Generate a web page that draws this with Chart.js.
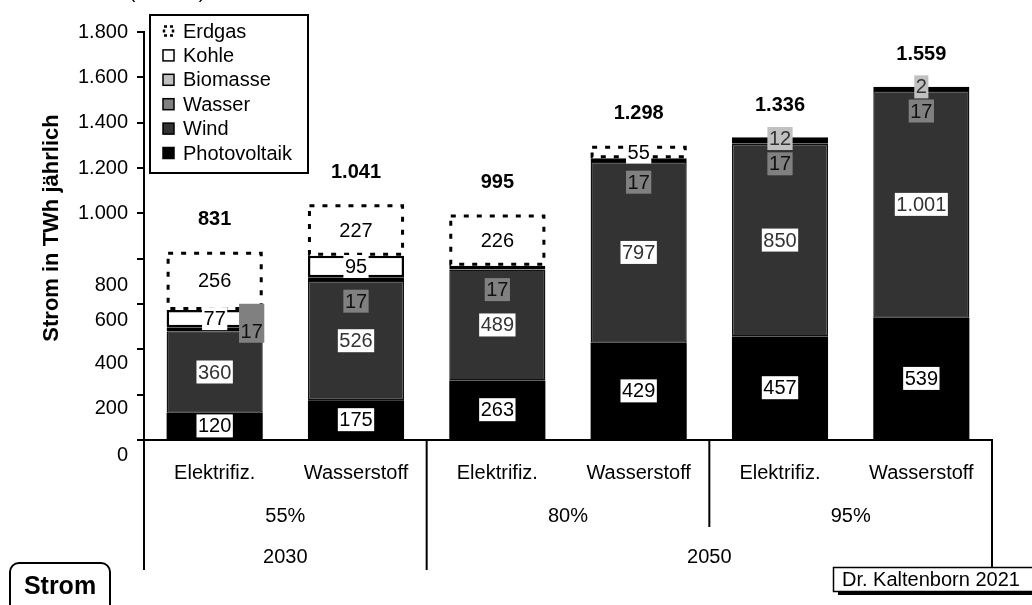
<!DOCTYPE html>
<html><head><meta charset="utf-8">
<script src="https://cdn.jsdelivr.net/npm/chart.js@4.4.1/dist/chart.umd.min.js"></script>
<style>html,body{margin:0;padding:0;background:#fff}#wrap{width:1032px;height:605px;position:relative}</style>
</head><body><div id="wrap"><canvas id="c"></canvas></div>
<script>
// ---------- data ----------
const categories = ['Elektrifiz.','Wasserstoff','Elektrifiz.','Wasserstoff','Elektrifiz.','Wasserstoff'];
const scenarioLabels = ['55%','80%','95%'];
const scenarioSpans = [2,2,2];
const yearLabels = ['2030','2050'];
const yearSpans = [2,4];
const seriesNames = ['Photovoltaik','Wind','Wasser','Biomasse','Kohle','Erdgas'];
const photovoltaik = [120,175,263,429,457,539];
const wind = [360,526,489,797,850,1001];
const wasser = [17,17,17,17,17,17];
const biomasse = [0,0,0,0,12,2];
const kohle = [77,95,0,0,0,0];
const erdgas = [256,227,226,55,0,0];
const totals = [831,1041,995,1298,1336,1559];
const yTickValues = [0,200,400,600,800,1000,1200,1400,1600,1800];
const yTickLabels = ['0','200','400','600','800','1.000','1.200','1.400','1.600','1.800'];
const axisTitle = 'Strom in TWh jährlich';
const topNote = '(in TWh)';
const boxLabel = 'Strom';
const sourceLabel = 'Dr. Kaltenborn 2021';

// ---------- style ----------
const FONT = '"Liberation Sans", Arial, Helvetica, sans-serif';
const fills = ['#000000','#333333','#808080','#c0c0c0','#ffffff','#ffffff'];
const borders = ['#000000','#111111','#000000','#000000','#000000','rgba(0,0,0,0)'];
const borderWidths = [0,1.5,2,2,2.5,0];
const labelBg = ['#ffffff','#ffffff','#808080','#c0c0c0','#ffffff','#ffffff'];
const labelColor = ['#000000','#333333','#111111','#333333','#000000','#000000'];
const yLabelShift = [15,14,14,16,27,0,0,0,0,0];
const wasserDx = [37,0,0,0,0,0];
const wasserDy = [2,22,22,22,22,22];
const wasserPadTop = [16,0,0,0,0,0];

const fmt = v => String(v).replace(/\B(?=(\d{3})+(?!\d))/g,'.');
const seriesData = [photovoltaik, wind, wasser, biomasse, kohle, erdgas];

const decor = {
  id:'decor',
  beforeDraw(chart){
    const c = chart.ctx; c.save(); c.fillStyle='#fff'; c.fillRect(0,0,chart.width,chart.height); c.restore();
  },
  afterDatasetsDraw(chart){
    const ctx = chart.ctx;
    const ys = chart.scales.y;
    ctx.save();
    // dashed Erdgas outline
    const gm = chart.getDatasetMeta(5);
    gm.data.forEach((bar,i)=>{
      if(!erdgas[i]) return;
      const p = bar.getProps(['x','y','base','width'], true);
      ctx.setLineDash([5,8]);
      ctx.lineWidth = 3;
      ctx.strokeStyle = '#000';
      ctx.strokeRect(p.x - p.width/2 + 1.5, p.y + 1.5, p.width - 3, p.base - p.y - 3);
    });
    ctx.setLineDash([]);
    // segment labels
    ctx.font = '20px ' + FONT;
    ctx.textAlign = 'center';
    ctx.textBaseline = 'middle';
    seriesData.forEach((arr, d)=>{
      const meta = chart.getDatasetMeta(d);
      meta.data.forEach((bar,i)=>{
        const v = arr[i];
        if(!v) return;
        const p = bar.getProps(['x','y','base'], true);
        let cx = p.x, cy = (p.y + p.base)/2, padTop = 0;
        if(d === 2){ cx += wasserDx[i]; cy += wasserDy[i]; padTop = wasserPadTop[i]; }
        const t = fmt(v);
        const w = ctx.measureText(t).width + 3;
        const h = 23;
        ctx.fillStyle = labelBg[d];
        ctx.fillRect(cx - w/2, cy - h/2 - padTop, w, h + padTop);
        ctx.fillStyle = labelColor[d];
        ctx.fillText(t, cx, cy + 1);
      });
    });
    // totals
    ctx.font = 'bold 20px ' + FONT;
    ctx.fillStyle = '#000';
    const pm = chart.getDatasetMeta(0);
    totals.forEach((t,i)=>{
      const x = pm.data[i].x;
      ctx.fillText(fmt(t), x, ys.getPixelForValue(t) - 32);
    });
    ctx.restore();
  },
  afterDraw(chart){
    const ctx = chart.ctx;
    const xs = chart.scales.x, ys = chart.scales.y;
    const ca = chart.chartArea;
    ctx.save();
    // top cut note
    ctx.font = '20px ' + FONT; ctx.fillStyle='#000'; ctx.textAlign='center'; ctx.textBaseline='alphabetic';
    ctx.fillText(topNote, 167, -2);
    // y tick labels
    ctx.textAlign='right'; ctx.textBaseline='middle';
    yTickValues.forEach((v,k)=>{
      ctx.fillText(yTickLabels[k], 128, ys.getPixelForValue(v) + yLabelShift[k]);
    });
    // y axis title
    ctx.save();
    ctx.translate(52, 228); ctx.rotate(-Math.PI/2);
    ctx.font = 'bold 22px ' + FONT; ctx.textAlign='center'; ctx.textBaseline='middle';
    ctx.fillText(axisTitle, 0, 0);
    ctx.restore();
    // category group lines
    const bottomFull = 570, bottomMid = 527;
    ctx.strokeStyle='#000'; ctx.lineWidth=2;
    const bnd = k => xs.getPixelForValue(k - 0.5);
    ctx.beginPath(); ctx.moveTo(ca.left, ca.bottom); ctx.lineTo(ca.left, bottomFull); ctx.stroke();
    let idx = 0;
    const yearEdges = [];
    yearSpans.forEach(s=>{ idx += s; yearEdges.push(idx); });
    idx = 0;
    scenarioSpans.forEach(s=>{
      idx += s;
      const x = bnd(idx);
      const full = yearEdges.includes(idx);
      ctx.beginPath(); ctx.moveTo(x, ca.bottom); ctx.lineTo(x, full ? bottomFull : bottomMid); ctx.stroke();
    });
    // group labels
    ctx.font = '20px ' + FONT; ctx.textAlign='center'; ctx.textBaseline='middle'; ctx.fillStyle='#000';
    idx = 0;
    scenarioSpans.forEach((s,k)=>{
      const cx = (bnd(idx) + bnd(idx+s))/2;
      ctx.fillText(scenarioLabels[k], cx, 516);
      idx += s;
    });
    idx = 0;
    yearSpans.forEach((s,k)=>{
      const cx = (bnd(idx) + bnd(idx+s))/2;
      ctx.fillText(yearLabels[k], cx, 557);
      idx += s;
    });
    // legend
    const lx = 150, ly = 15, lw = 158, lh = 158;
    ctx.fillStyle='#fff'; ctx.fillRect(lx, ly, lw, lh);
    ctx.lineWidth=2; ctx.strokeStyle='#000'; ctx.strokeRect(lx, ly, lw, lh);
    ctx.font = '20px ' + FONT; ctx.textAlign='left'; ctx.textBaseline='middle';
    for(let r=0; r<seriesNames.length; r++){
      const d = seriesNames.length - 1 - r;
      const cy = 31 + r*24.4;
      const mx = 163, ms = 11;
      if(d === 5){
        ctx.setLineDash([3,3]); ctx.lineWidth=2.5; ctx.strokeStyle='#000';
        ctx.strokeRect(mx+1, cy - ms/2 + 1, ms-2, ms-2);
        ctx.setLineDash([]);
      } else {
        ctx.fillStyle = fills[d]; ctx.fillRect(mx, cy - ms/2, ms, ms);
        ctx.lineWidth=1.5; ctx.strokeStyle='#000'; ctx.strokeRect(mx, cy - ms/2, ms, ms);
      }
      ctx.fillStyle='#000';
      ctx.fillText(seriesNames[d], 183, cy + 1);
    }
    // "Strom" rounded box
    ctx.lineWidth=2; ctx.strokeStyle='#000'; ctx.fillStyle='#fff';
    ctx.beginPath(); ctx.roundRect(10, 563, 100, 60, 9); ctx.fill(); ctx.stroke();
    ctx.fillStyle='#000'; ctx.font='bold 25px ' + FONT; ctx.textAlign='center'; ctx.textBaseline='middle';
    ctx.fillText(boxLabel, 60, 587);
    // source box with shadow
    ctx.fillStyle='#000'; ctx.fillRect(838, 591, 200, 4);
    ctx.fillStyle='#fff'; ctx.fillRect(833, 567, 205, 25);
    ctx.lineWidth=1.5; ctx.strokeStyle='#000'; ctx.strokeRect(833.5, 567.5, 205, 24);
    ctx.fillStyle='#000'; ctx.font='20px ' + FONT; ctx.textAlign='left'; ctx.textBaseline='middle';
    ctx.fillText(sourceLabel, 842, 580);
    ctx.restore();
  }
};

const datasets = seriesNames.map((name,d)=>({
  label: name,
  data: seriesData[d],
  backgroundColor: fills[d],
  borderColor: borders[d],
  borderWidth: borderWidths[d],
  borderSkipped: false,
  stack: 's'
}));

new Chart(document.getElementById('c'), {
  type: 'bar',
  data: { labels: categories, datasets },
  plugins: [decor],
  options: {
    responsive: true,
    maintainAspectRatio: false,
    animation: false,
    events: [],
    layout: { padding: { top: 32, right: 40, left: 0, bottom: 0 } },
    plugins: { legend: { display: false }, tooltip: { enabled: false } },
    datasets: { bar: { barPercentage: 0.68, categoryPercentage: 1 } },
    scales: {
      x: {
        stacked: true,
        offset: true,
        grid: { display: false },
        border: { display: true, color: '#000', width: 2 },
        ticks: { color: '#000', font: { family: FONT, size: 20 }, padding: 13, maxRotation: 0, autoSkip: false },
        afterFit(s){ s.height = 165; }
      },
      y: {
        stacked: true,
        min: 0, max: 1800,
        ticks: { display: false, stepSize: 200 },
        grid: { display: true, drawOnChartArea: false, drawTicks: true, tickLength: 7, color: '#000', lineWidth: 2 },
        border: { display: true, color: '#000', width: 2 },
        afterFit(s){ s.width = 144; s.paddingTop = 0; s.paddingBottom = 0; }
      }
    }
  }
});
</script></body></html>
